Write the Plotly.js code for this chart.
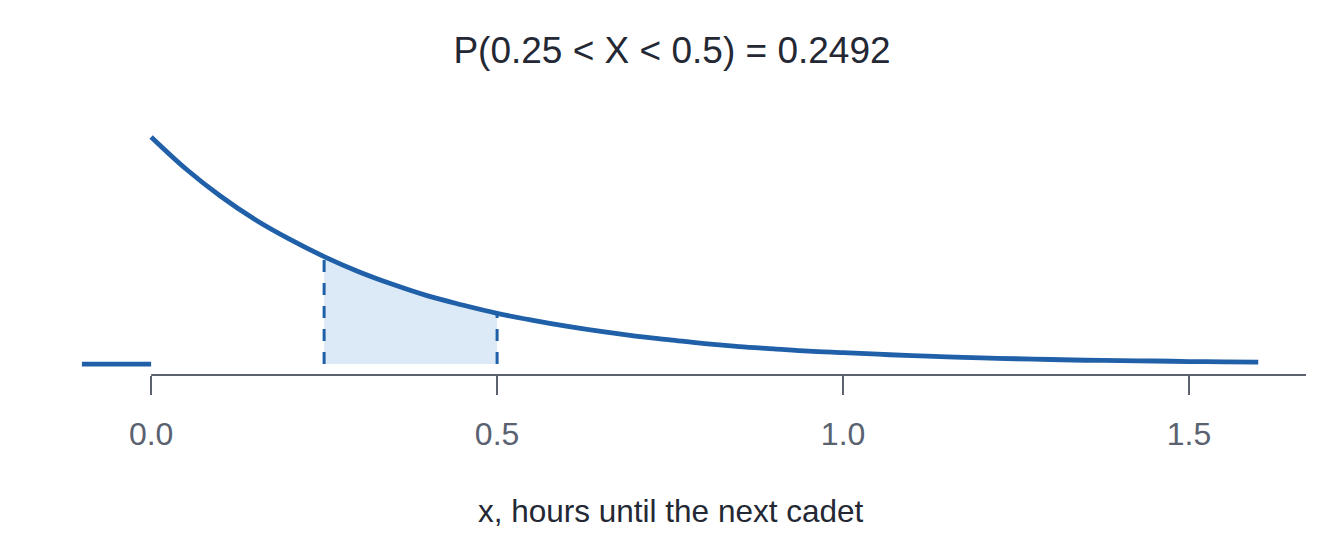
<!DOCTYPE html>
<html>
<head>
<meta charset="utf-8">
<script src="https://cdn.plot.ly/plotly-3.0.1.min.js"></script>
<style>html,body{margin:0;padding:0;background:#fff;}#chart{width:1344px;height:537px;}</style>
</head>
<body>
<div id="chart"></div>
<script>
// Density curve
const xVals = [0, 0.05, 0.1, 0.15, 0.2, 0.25, 0.3, 0.35, 0.4, 0.45, 0.5, 0.55, 0.6, 0.65, 0.7, 0.75, 0.8, 0.85, 0.9, 0.95, 1.0, 1.05, 1.1, 1.15, 1.2, 1.25, 1.3, 1.35, 1.4, 1.45, 1.5, 1.55, 1.6];
const yVals = [3.00, 2.58, 2.22, 1.91, 1.65, 1.42, 1.22, 1.05, 0.90, 0.78, 0.67, 0.58, 0.50, 0.43, 0.37, 0.32, 0.27, 0.23, 0.20, 0.17, 0.15, 0.13, 0.11, 0.095, 0.08, 0.07, 0.06, 0.05, 0.045, 0.04, 0.033, 0.029, 0.025];
// Zero segment left of 0
const leftX = [-0.1, 0];
const leftY = [0, 0];
// Shaded interval
const lower = 0.25;
const upper = 0.5;
const tickVals = [0, 0.5, 1.0, 1.5];
const tickText = ["0.0", "0.5", "1.0", "1.5"];
const titleText = "P(0.25 < X < 0.5) = 0.2492";
const xTitle = "x, hours until the next cadet";

const blue = "#2060a8";
const fillC = "#dce9f6";
const axisC = "#5a6270";

const shadeX = [], shadeY = [];
xVals.forEach((x, i) => { if (x >= lower - 1e-9 && x <= upper + 1e-9) { shadeX.push(x); shadeY.push(yVals[i]); } });
const yAt = v => yVals[xVals.findIndex(x => Math.abs(x - v) < 1e-9)];

const traces = [
  {x: shadeX, y: shadeY, type: "scatter", mode: "lines", fill: "tozeroy", fillcolor: fillC, line: {width: 0, shape: "spline"}, hoverinfo: "skip"},
  {x: [lower, lower], y: [0, yAt(lower)], type: "scatter", mode: "lines", line: {color: blue, width: 3, dash: "12px,11px"}},
  {x: [upper, upper], y: [0, yAt(upper)], type: "scatter", mode: "lines", line: {color: blue, width: 3, dash: "12px,11px"}},
  {x: leftX, y: leftY, type: "scatter", mode: "lines", line: {color: blue, width: 4.8}},
  {x: xVals, y: yVals, type: "scatter", mode: "lines", line: {color: blue, width: 4.8, shape: "spline"}}
];

const layout = {
  width: 1344, height: 537,
  paper_bgcolor: "#fff", plot_bgcolor: "#fff",
  showlegend: false,
  margin: {l: 75, r: 38, t: 100, b: 162},
  font: {family: "Liberation Sans, Arial, sans-serif"},
  title: {text: titleText, x: 0.5, xanchor: "center", y: 1 - 50/537, yref: "container", yanchor: "middle",
          font: {size: 37, color: "#232834", family: "Liberation Sans, Arial, sans-serif"}},
  xaxis: {
    range: [-0.11, 1.669], showgrid: false, zeroline: false, showline: false,
    tickmode: "array", tickvals: tickVals, ticktext: tickText,
    ticks: "outside", ticklen: 19, tickwidth: 2, tickcolor: axisC,
    ticklabelstandoff: 12,
    tickfont: {size: 32, color: axisC}, automargin: false
  },
  yaxis: {range: [-0.145, 3.489], visible: false, showgrid: false, zeroline: false},
  annotations: [
    {text: xTitle, xref: "paper", yref: "paper", x: (670 - 75) / 1231, y: -(511 - 375) / 275,
     xanchor: "center", yanchor: "middle", showarrow: false,
     font: {size: 31.5, color: "#232834", family: "Liberation Sans, Arial, sans-serif"}}
  ],
  shapes: [
    {type: "line", xref: "x", yref: "paper", x0: 0, x1: 1.669, y0: 0, y1: 0, line: {color: axisC, width: 2}}
  ]
};

Plotly.newPlot("chart", traces, layout, {staticPlot: true, displayModeBar: false});
</script>
</body>
</html>
